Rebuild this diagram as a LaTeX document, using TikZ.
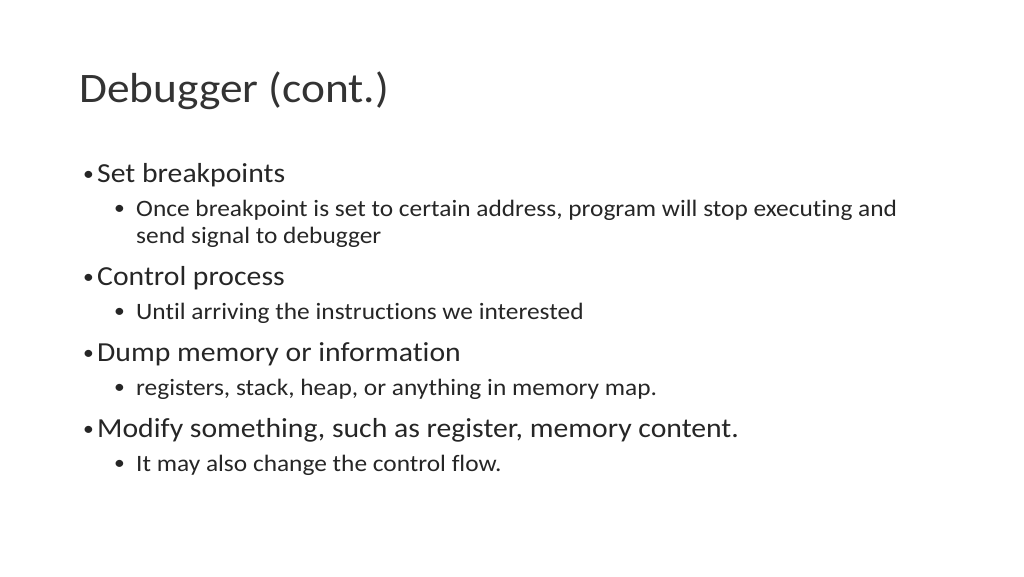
\documentclass[tikz,border=0pt]{standalone}
\usepackage{fontspec}
\setmainfont[Ligatures=NoCommon,FakeStretch=1.08]{Carlito}
\begin{document}
\begin{tikzpicture}[x=1pt,y=-1pt,
  ttl/.style={anchor=base west,inner sep=0,font=\fontsize{42}{50}\selectfont,text=black!80},
  lone/.style={anchor=base west,inner sep=0,font=\fontsize{27.5}{30}\selectfont,text=black!85},
  ltwo/.style={anchor=base west,inner sep=0,font=\fontsize{23.5}{27}\selectfont,text=black!85},
  bul/.style={anchor=base west,inner sep=0,font=\fontsize{20}{24}\selectfont,text=black!85}]
\useasboundingbox (0,0) rectangle (1024,576);
\node[ttl] (t) at (79,102) {Debugger (cont.)};
\node[bul] (b1) at (83,180) {•}; \node[lone] (a1) at (97,182) {Set breakpoints};
\node[bul] (b2) at (114,214) {•}; \node[ltwo] (a2) at (136,216) {Once breakpoint is set to certain address, program will stop executing and};
\node[ltwo] (a2b) at (136,243) {send signal to debugger};
\node[bul] (b3) at (83,283) {•}; \node[lone] (a3) at (97,285) {Control process};
\node[bul] (b4) at (114,317) {•}; \node[ltwo] (a4) at (136,319) {Until arriving the instructions we interested};
\node[bul] (b5) at (83,359) {•}; \node[lone] (a5) at (97,361) {Dump memory or information};
\node[bul] (b6) at (114,393) {•}; \node[ltwo] (a6) at (136,395) {registers, stack, heap, or anything in memory map.};
\node[bul] (b7) at (83,435) {•}; \node[lone] (a7) at (97,437) {Modify something, such as register, memory content.};
\node[bul] (b8) at (114,469) {•}; \node[ltwo] (a8) at (136,471) {It may also change the control flow.};
\end{tikzpicture}
\end{document}
